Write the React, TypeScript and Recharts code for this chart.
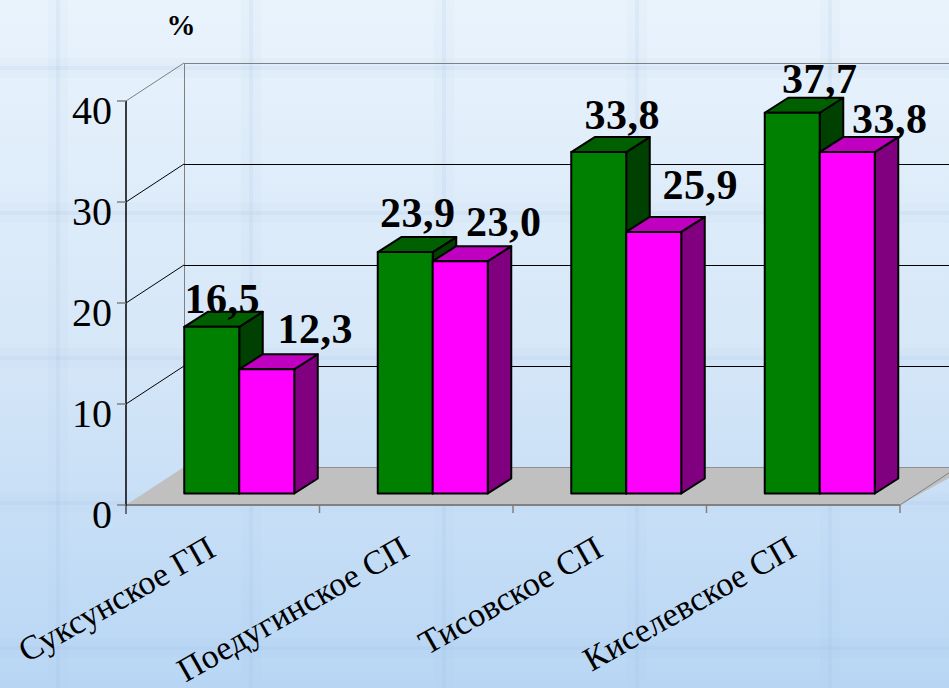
import React from 'react';
import { BarChart, Bar, XAxis, YAxis, ReferenceLine, LabelList, Customized } from 'recharts';

const categories = ['Суксунское ГП', 'Поедугинское СП', 'Тисовское СП', 'Киселевское СП'];
const greenValues = [16.5, 23.9, 33.8, 37.7];
const magentaValues = [12.3, 23.0, 25.9, 33.8];
const yTicks = [0, 10, 20, 30, 40];

const data = categories.map((name, i) => ({ name, green: greenValues[i], magenta: magentaValues[i] }));

const W = 949, H = 688;
const LEFT = 126, RIGHT = 900, TOP = 101, BOTTOM = 505;
const HALF_BAND = (RIGHT - LEFT) / categories.length / 2;
const WALL_DX = 58, WALL_DY = 38;
const BAR_DX = 16.5, BAR_DY = 11.5;
const DEPTH_X = 23.5, DEPTH_Y = 15;
const SERIF = '"Liberation Serif", "Times New Roman", serif';

// label nudges relative to bar's drawn front-top-left corner: [center offset, baseline offset]
const greenLabelNudge = [[38, -14], [40, -25], [51, -23], [55, -20]];
const magentaLabelNudge = [[76, -26], [71, -25], [74, -33], [70, -19]];

const bar3D = (front: string, top: string, side: string) => (p: any) => {
  const x = p.x + BAR_DX, y = p.y - BAR_DY, w = p.width, h = p.height;
  const s = { stroke: '#000', strokeWidth: 2, strokeLinejoin: 'round' as const };
  return (
    <g>
      <polygon points={`${x + w},${y} ${x + w + DEPTH_X},${y - DEPTH_Y} ${x + w + DEPTH_X},${y + h - DEPTH_Y} ${x + w},${y + h}`} fill={side} {...s} />
      <polygon points={`${x},${y} ${x + DEPTH_X},${y - DEPTH_Y} ${x + w + DEPTH_X},${y - DEPTH_Y} ${x + w},${y}`} fill={top} {...s} />
      <rect x={x} y={y} width={w} height={h} fill={front} {...s} />
    </g>
  );
};

const barLabel = (nudge: number[][]) => (p: any) => {
  const n = nudge[p.index];
  return (
    <text x={p.x + BAR_DX + n[0]} y={p.y - BAR_DY + n[1]} textAnchor="middle" fontFamily={SERIF} fontWeight="bold" fontSize={42} letterSpacing={0.5} fill="#000">
      {Number(p.value).toFixed(1).replace('.', ',')}
    </text>
  );
};

const wallLine = (v: number) => (p: any) => {
  const x1 = p.x1 ?? LEFT, y = p.y1 ?? BOTTOM;
  const color = v === 40 ? '#808080' : '#000';
  if (v === 0) {
    return (
      <g>
        <polygon points={`${x1},${y} ${x1 + WALL_DX},${y - WALL_DY} ${W + 20},${y - WALL_DY} ${p.x2},${y} `} fill="#c0c0c0" />
        <line x1={p.x2} y1={y} x2={p.x2 + WALL_DX} y2={y - WALL_DY} stroke="#808080" strokeWidth={1} />
        <line x1={x1 + WALL_DX} y1={y - WALL_DY} x2={W} y2={y - WALL_DY} stroke="#909090" strokeWidth={1} shapeRendering="crispEdges" />
        <line x1={x1} y1={y} x2={p.x2} y2={y} stroke="#808080" strokeWidth={2} />
        <line x1={x1 + WALL_DX} y1={y - WALL_DY} x2={x1 + WALL_DX} y2={TOP - WALL_DY} stroke="#808080" strokeWidth={1} shapeRendering="crispEdges" />
      </g>
    );
  }
  return (
    <g>
      <line x1={x1} y1={y} x2={x1 + WALL_DX} y2={y - WALL_DY} stroke={color} strokeWidth={1} />
      <line x1={x1 + WALL_DX} y1={y - WALL_DY} x2={W} y2={y - WALL_DY} stroke={color} strokeWidth={1} shapeRendering="crispEdges" />
    </g>
  );
};

const YTick = (p: any) => (
  <text x={p.x - 3} y={p.y + 23} textAnchor="end" fontFamily={SERIF} fontSize={40} fill="#000">
    {p.payload.value}
  </text>
);

const XTick = (p: any) => {
  const bx = p.x - 5, by = p.y + 42;
  return (
    <g>
      {p.index === 0 && <line x1={p.x - HALF_BAND} y1={BOTTOM} x2={p.x - HALF_BAND} y2={BOTTOM + 9} stroke="#000" strokeWidth={1} />}
      <line x1={p.x + HALF_BAND} y1={BOTTOM} x2={p.x + HALF_BAND} y2={BOTTOM + 8} stroke="#808080" strokeWidth={1.5} />
      <text x={bx} y={by} textAnchor="end" fontFamily={SERIF} fontSize={34} fill="#000" transform={`rotate(-29.5 ${bx} ${by})`}>
        {p.payload.value}
      </text>
    </g>
  );
};

const PercentMark = () => (
  <text x={181} y={35} textAnchor="middle" fontFamily={SERIF} fontWeight="bold" fontSize={29} fill="#000">%</text>
);

const stripe = 'rgba(150,180,220,0.16)';
const soft = 'rgba(150,180,220,0.05)';
const pageBackground = [
  `linear-gradient(90deg, transparent 0 48px, ${soft} 48px 56px, ${stripe} 56px 60px, ${soft} 60px 68px, transparent 68px)`,
  `linear-gradient(180deg, transparent 0 58px, ${soft} 58px 66px, ${stripe} 66px 70px, ${soft} 70px 78px, transparent 78px)`,
  'linear-gradient(180deg, #e9f3fc 0%, #d6e7f8 50%, #b8d6f4 100%)',
];

export default function App() {
  return (
    <div
      style={{
        position: 'absolute', left: 0, top: 0, width: W, height: H, overflow: 'hidden',
        backgroundImage: pageBackground.join(','),
        backgroundSize: '193px 100%, 100% 145px, 100% 100%',
      }}
    >
      <BarChart
        width={W}
        height={H}
        data={data}
        margin={{ top: TOP, right: W - RIGHT, bottom: 0, left: 0 }}
        barGap={0}
        barCategoryGap={41.75}
        style={{ overflow: 'hidden' }}
      >
        {yTicks.map((v) => (
          <ReferenceLine key={v} y={v} shape={wallLine(v)} zIndex={-50} ifOverflow="visible" />
        ))}
        <XAxis dataKey="name" height={H - BOTTOM} axisLine={false} tickLine={false} tick={XTick} interval={0} />
        <YAxis
          type="number"
          domain={[0, 40]}
          ticks={yTicks}
          width={LEFT}
          axisLine={{ stroke: '#000', strokeWidth: 1.5 }}
          tickLine={{ stroke: '#808080', strokeWidth: 1.5 }}
          tickSize={9}
          tick={YTick}
        />
        <Bar dataKey="green" isAnimationActive={false} shape={bar3D('#008000', '#006000', '#004000')}>
          <LabelList dataKey="green" content={barLabel(greenLabelNudge)} />
        </Bar>
        <Bar dataKey="magenta" isAnimationActive={false} shape={bar3D('#ff00ff', '#c000c0', '#800080')}>
          <LabelList dataKey="magenta" content={barLabel(magentaLabelNudge)} />
        </Bar>
        <Customized component={PercentMark} />
      </BarChart>
    </div>
  );
}
